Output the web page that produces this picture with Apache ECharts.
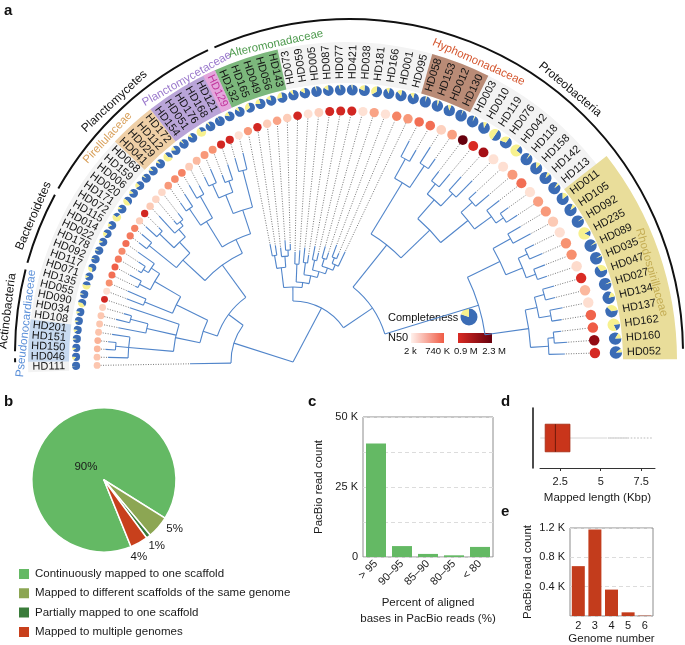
<!DOCTYPE html>
<html><head><meta charset="utf-8">
<script src="https://cdn.jsdelivr.net/npm/echarts@6/dist/echarts.min.js"></script>
<style>html,body{margin:0;padding:0;background:#fff}#chart{width:685px;height:645px}</style>
</head><body><div id="chart"></div>
<script>
// ================= DATA =================
// ---- panel a : leaves in tree order (from HD111 clockwise to HD052)
const leafNames = ['HD111','HD046','HD150','HD151','HD201','HD108','HD034','HD090','HD055','HD135',
 'HD071','HD117','HD092','HD178','HD022','HD014','HD115','HD072','HD171','HD020',
 'HD006','HD159','HD068','HD041','HD029','HD112','HD172','HD154','HD051','HD176',
 'HD168','HD121','HD129','HD132','HD165','HD049','HD056','HD143','HD073','HD059',
 'HD005','HD087','HD077','HD421','HD038','HD181','HD166','HD001','HD095','HD058',
 'HD153','HD012','HD130','HD003','HD010','HD119','HD076','HD042','HD118','HD158',
 'HD142','HD113','HD011','HD105','HD092','HD235','HD089','HD035','HD047','HD027',
 'HD134','HD137','HD162','HD160','HD052'];
// N50 (K bp)
const n50K = [230,240,300,330,250,230,220,150,1000,60,
 500,650,720,600,520,650,600,560,180,1000,
 200,120,100,450,520,560,180,300,450,480,
 1000,1000,40,450,1000,180,400,180,1000,40,
 150,1000,1000,1000,40,400,30,550,450,650,
 650,150,420,2300,900,1600,40,50,450,650,
 40,420,450,200,50,480,500,80,850,300,
 60,700,750,1800,950];
// completeness (%)
const completeness = [99,85,90,95,88,92,90,60,95,45,
 90,70,96,95,90,80,85,30,90,55,
 88,80,95,90,92,40,85,95,90,30,
 95,98,85,90,70,80,85,75,90,85,
 97,85,95,97,80,65,90,85,88,97,
 95,90,98,97,90,50,70,25,97,88,
 92,95,85,90,98,15,97,97,70,97,
 85,65,20,85,90];
// families (leaf index ranges)
const familyNames  = ['Pseudonocardiaceae','Pirellulaceae','Planctomycetaceae','Alteromonadaceae','Hyphomonadaceae','Rhodospirillaceae'];
const familyRanges = [[1,4],[23,26],[27,32],[33,37],[49,52],[62,74]];
const highlightLeaf = [32];            // HD129
// phyla (leaf index ranges)
const phylumNames  = ['','Actinobacteria','Bacteroidetes','Planctomycetes','Proteobacteria'];
const phylumRanges = [[0,0],[1,8],[9,15],[16,32],[33,74]];
// tree topology, number after ':' = distance of the node from the root
const treeNewick =
 '((HD111:103,((((HD046:185,(HD150:188,HD151:186):178,HD201:183):165,(HD108:178,(HD034:182,HD090:176):168):150,HD055:172):120,' +
 '((HD135:178,HD071:180):160,((HD117:175,HD092:185):172,((HD178:180,HD022:184):176,HD014:190):170):160):130):95,' +
 '(((HD115:195,HD072:198):185,((HD171:200,HD020:190):185,(HD006:198,(HD159:185,HD068:188):180):175):165):150,' +
 '(((HD041:195,HD029:200):185,(HD112:205,HD172:200):190):165,(((HD154:205,HD051:210):195,(HD176:200,HD168:208):192):180,(HD121:212,HD129:215):198):160):135):120):80):62,' +
 '((((HD132:120,HD165:118):108,(HD049:115,(HD056:122,HD143:118):112):106):95,' +
 '((HD073:110,HD059:112):98,((HD005:115,HD087:108):100,((HD077:118,HD421:112):104,((HD038:120,HD181:115):108,((HD166:125,HD001:118):112,HD095:122):106):100):94):88):80):75,' +
 '((((HD058:250,HD153:245):232,(HD012:255,HD130:248):236):210,' +
 '(((HD003:240,HD010:245):228,(HD119:250,HD076:255):232):215,((HD042:250,HD118:258):240,(HD158:262,(HD142:265,HD113:268):255):246):225):190):150,' +
 '(((HD011:265,HD105:270):250,((HD092:268,HD235:272):258,(HD089:270,HD035:268):258):248):230,' +
 '(((HD047:272,HD027:270):260,(HD134:275,HD137:272):262):250,((HD162:270,HD160:275):262,HD052:272):256):238):194):96):61):0';
// N50 legend ticks
const n50LegendTicks = ['2 k','740 K','0.9 M','2.3 M'];

// ---- panel b
const pieNames  = ['Continuously mapped to one scaffold','Mapped to different scaffolds of the same genome','Partially mapped to one scaffold','Mapped to multiple genomes'];
const pieValues = [90,5,1,4];
// ---- panel c
const cCategories = ['> 95','90\u201395','85\u201390','80\u201395','< 80'];
const cValues = [40500,3900,1100,600,3600];
// ---- panel d  (Kbp)
const dBox = [1.27,1.57,2.2,3.1,5.4];            // min, Q1, median, Q3, max
const dOutliers = [5.5,5.6,5.7,5.8,5.9,6.0,6.1,6.2,6.3,6.4,6.5,6.6,6.7,6.9,7.1,7.3,7.5,7.7,7.9,8.1];
// ---- panel e
const eCategories = ['2','3','4','5','6'];
const eValues = [680,1180,360,50,5];

// ================= LAYOUT / STYLE =================
const FONT = '"Liberation Sans", Arial, Helvetica, sans-serif';
const CA = [293,362];      // tree polar centre (px)
const CB = [346,360];      // ring polar centre (px)
const CC = [349,353];      // phylum arc polar centre (px)
const RA_MAX = 330, RB_MAX = 360, RC_MAX = 360;
const R_N50 = 249, R_PIE = 270, R_LAB = 281, R_BAND0 = 277, R_BAND1 = 318;
const R_ARC = 334, R_PHY = 344;
const TH0 = 181.0, TH1 = 1.7;       // angular span of the tree leaves
const familyStyle = {
  Pseudonocardiaceae:{fill:'#c8daf0', text:'#5a8fd8', phi:173.5, r:322, r1:R_BAND1},
  Pirellulaceae:{fill:'#efcfa6', text:'#d9a15c', phi:137, r:326, r1:R_BAND1},
  Planctomycetaceae:{fill:'#b9a4d8', text:'#9a78cc', phi:119.5, r:323, r1:R_BAND1},
  Alteromonadaceae:{fill:'#7cb87c', text:'#4d9a4d', phi:102.5, r:324, r1:R_BAND1},
  Hyphomonadaceae:{fill:'#b98b76', text:'#d4552d', phi:66, r:326, r1:R_BAND1},
  Rhodospirillaceae:{fill:'#e9dd9a', text:'#c4ad55', phi:16, r:318, r1:331}
};
const phylumLabelPhi = [null,173,156.5,133,50];
const TREE_COLOR = '#5185ca', BLUE = '#3b6cb5', YELLOW = '#f7f18e';

// ================= GEOMETRY =================
const N = leafNames.length;
const thetaTree = leafNames.map((_, i) => TH0 - i * (TH0 - TH1) / (N - 1));
function rayHit(thDeg, R) {
  const th = thDeg * Math.PI / 180, ux = Math.cos(th), uy = -Math.sin(th);
  const dx = CA[0] - CB[0], dy = CA[1] - CB[1];
  const b = dx * ux + dy * uy, c = dx * dx + dy * dy - R * R;
  const t = -b + Math.sqrt(b * b - c);
  const px = CA[0] + t * ux, py = CA[1] + t * uy;
  let phi = Math.atan2(-(py - CB[1]), px - CB[0]) * 180 / Math.PI;
  if (phi < -60) phi += 360;
  return {t, phi};
}
const hits = thetaTree.map(th => rayHit(th, R_N50));
const ringPhi = hits.map(h => h.phi);
const ringDistA = hits.map(h => h.t);
const dPhi = ringPhi.map((p, i) => i === 0 ? ringPhi[0] - ringPhi[1] : i === N - 1 ? ringPhi[N - 2] - ringPhi[N - 1] : (ringPhi[i - 1] - ringPhi[i + 1]) / 2);
const D2R = Math.PI / 180;

// tree parsing
function parseNewick(s) {
  let pos = 0, leafCounter = 0;
  function node() {
    const n = {children: []};
    if (s[pos] === '(') {
      pos++;
      n.children.push(node());
      while (s[pos] === ',') { pos++; n.children.push(node()); }
      pos++;
    }
    let name = '';
    while (pos < s.length && ',():;'.indexOf(s[pos]) < 0) name += s[pos++];
    n.name = name;
    if (s[pos] === ':') { pos++; let num = ''; while (pos < s.length && ',();'.indexOf(s[pos]) < 0) num += s[pos++]; n.depth = parseFloat(num); }
    if (!n.children.length) n.leaf = leafCounter++;
    return n;
  }
  return node();
}
const treeRoot = parseNewick(treeNewick);
const treeNodes = [];
(function layout(n, parent) {
  n.parent = parent;
  n.children.forEach(c => layout(c, n));
  n.theta = n.children.length ? (n.children[0].theta + n.children[n.children.length - 1].theta) / 2 : thetaTree[n.leaf];
  treeNodes.push(n);
})(treeRoot, null);

function n50Color(v) {
  if (v <= 800) return echarts.color.lerp(Math.max(0, Math.min(1, (v - 2) / 738)), ['#fee6dc', '#fcc3ab', '#f7906f', '#ef5b45']);
  return echarts.color.lerp(Math.max(0, Math.min(1, (v - 900) / 1400)), ['#d92b24', '#a50f15', '#67000d']);
}

// ================= SERIES for panel a =================
function pxR(params, v, max) { return v * params.coordSys.r / max; }

const bandSpecs = [{from: 0, to: N - 1, r0: R_BAND0, r1: R_BAND1, fill: '#f3f3f3'}];
familyNames.forEach((f, k) => bandSpecs.push({from: familyRanges[k][0], to: familyRanges[k][1], r0: R_BAND0, r1: familyStyle[f].r1, fill: familyStyle[f].fill}));
highlightLeaf.forEach(i => bandSpecs.push({from: i, to: i, r0: R_BAND0, r1: R_BAND1, fill: '#e4a6dc'}));

function spanPhi(from, to, shrink) {
  return [ringPhi[from] + dPhi[from] / 2 - (shrink || 0), ringPhi[to] - dPhi[to] / 2 + (shrink || 0)];
}

const series = [];
// backgrounds of labels
series.push({
  type: 'custom', coordinateSystem: 'polar', polarIndex: 0, silent: true, z: 1,
  data: bandSpecs.map((b, k) => [b.r1, ringPhi[b.from], k]),
  renderItem(params, api) {
    const b = bandSpecs[api.value(2)], sp = spanPhi(b.from, b.to, 0);
    return {type: 'sector', shape: {cx: params.coordSys.cx, cy: params.coordSys.cy,
      r0: pxR(params, b.r0, RB_MAX), r: pxR(params, b.r1, RB_MAX), startAngle: -sp[0] * D2R, endAngle: -sp[1] * D2R, clockwise: true},
      style: {fill: b.fill}};
  }
});
// family labels
series.push({
  type: 'custom', coordinateSystem: 'polar', polarIndex: 0, silent: true, z: 3,
  data: familyNames.map((f, k) => [familyStyle[f].r, familyStyle[f].phi, k]),
  renderItem(params, api) {
    const f = familyNames[api.value(2)], phi = api.value(1), p = api.coord([api.value(0), phi]);
    return {type: 'text', x: p[0], y: p[1], rotation: (phi - 90) * D2R,
      style: {text: f, fill: familyStyle[f].text, font: '11.5px ' + FONT, align: 'center', verticalAlign: 'middle'}};
  }
});
// phylum arcs + labels
series.push({
  type: 'custom', coordinateSystem: 'polar', polarIndex: 2, silent: true, z: 3,
  data: phylumNames.map((p, k) => [R_ARC, ringPhi[phylumRanges[k][0]], k]),
  renderItem(params, api) {
    const k = api.value(2), rg = phylumRanges[k], sp = spanPhi(rg[0], rg[1], 0.6);
    const ch = [{type: 'arc', shape: {cx: params.coordSys.cx, cy: params.coordSys.cy, r: pxR(params, R_ARC, RC_MAX),
      startAngle: -sp[0] * D2R, endAngle: -sp[1] * D2R, clockwise: true}, style: {stroke: '#111', lineWidth: 2, fill: null}}];
    if (phylumNames[k]) {
      const phi = phylumLabelPhi[k], p = api.coord([R_PHY, phi]);
      ch.push({type: 'text', x: p[0], y: p[1], rotation: (phi - 90) * D2R,
        style: {text: phylumNames[k], fill: '#111', font: '12px ' + FONT, align: 'center', verticalAlign: 'middle'}});
    }
    return {type: 'group', children: ch};
  }
});
// tree branches
series.push({
  type: 'custom', coordinateSystem: 'polar', polarIndex: 1, silent: true, z: 2,
  data: treeNodes.map((n, k) => [n.depth, n.theta, k]),
  renderItem(params, api) {
    const n = treeNodes[api.value(2)], ch = [];
    const st = {stroke: TREE_COLOR, lineWidth: 1.1, fill: null};
    if (n.parent) {
      const a = api.coord([n.parent.depth, n.theta]), b = api.coord([n.depth, n.theta]);
      ch.push({type: 'line', shape: {x1: a[0], y1: a[1], x2: b[0], y2: b[1]}, style: st});
    }
    if (n.children.length && n.depth > 0) {
      const t0 = n.children[0].theta, t1 = n.children[n.children.length - 1].theta;
      ch.push({type: 'arc', shape: {cx: params.coordSys.cx, cy: params.coordSys.cy, r: pxR(params, n.depth, RA_MAX),
        startAngle: -t0 * D2R, endAngle: -t1 * D2R, clockwise: true}, style: st});
    }
    return {type: 'group', children: ch};
  }
});
// dotted connectors tip -> N50 circle
series.push({
  type: 'custom', coordinateSystem: 'polar', polarIndex: 1, silent: true, z: 2,
  data: treeNodes.filter(n => !n.children.length).map(n => [n.depth, n.theta, n.leaf]),
  renderItem(params, api) {
    const i = api.value(2);
    const a = api.coord([api.value(0) + 1, api.value(1)]);
    const b = api.coord([ringDistA[i] - 0.41 * R_N50 * dPhi[i] * D2R, api.value(1)]);
    return {type: 'line', shape: {x1: a[0], y1: a[1], x2: b[0], y2: b[1]},
      style: {stroke: '#555', lineWidth: 0.8, lineDash: [1, 1.5]}};
  }
});
// N50 circles
series.push({
  type: 'scatter', coordinateSystem: 'polar', polarIndex: 0, silent: true, z: 4,
  data: leafNames.map((n, i) => [R_N50, ringPhi[i], n50K[i], i]),
  symbol: 'circle',
  symbolSize: v => 0.82 * R_N50 * dPhi[v[3]] * D2R,
  itemStyle: {color: p => n50Color(p.value[2]), opacity: 1},
  emphasis: {disabled: true}
});
// completeness pies
series.push({
  type: 'custom', coordinateSystem: 'polar', polarIndex: 0, silent: true, z: 4,
  data: leafNames.map((n, i) => [R_PIE, ringPhi[i], completeness[i], i]),
  renderItem(params, api) {
    const i = api.value(3), p = api.coord([api.value(0), api.value(1)]);
    const r = 0.45 * R_PIE * dPhi[i] * D2R, s = -api.value(1) * D2R, e = s + 2 * Math.PI * api.value(2) / 100;
    return {type: 'group', children: [
      {type: 'sector', shape: {cx: p[0], cy: p[1], r: r, r0: 0, startAngle: s, endAngle: e, clockwise: true}, style: {fill: BLUE}},
      {type: 'sector', shape: {cx: p[0], cy: p[1], r: r, r0: 0, startAngle: e, endAngle: s + 2 * Math.PI, clockwise: true}, style: {fill: YELLOW}}
    ]};
  }
});
// leaf labels
series.push({
  type: 'custom', coordinateSystem: 'polar', polarIndex: 0, silent: true, z: 5,
  data: leafNames.map((n, i) => [R_LAB, ringPhi[i], i]),
  renderItem(params, api) {
    const i = api.value(2), phi = api.value(1), p = api.coord([api.value(0), phi]);
    const flip = thetaTree[i] > 90;
    return {type: 'text', x: p[0], y: p[1], rotation: (flip ? phi - 180 : phi) * D2R,
      style: {text: leafNames[i], fill: highlightLeaf.indexOf(i) >= 0 ? '#c2369c' : '#141414', font: '11px ' + FONT,
        align: flip ? 'right' : 'left', verticalAlign: 'middle'}};
  }
});

// ================= panels b-e series =================
const pieColors = ['#64b964', '#8ca653', '#3a7c3a', '#c8401c'];
const pieLabelShift = [[7, 17], [0, 0], [-8, 3], [-10, 0]];
series.push({
  type: 'pie', center: [104, 480], radius: 72, startAngle: 292, clockwise: true,
  data: pieNames.map((n, i) => ({name: n, value: pieValues[i], itemStyle: {color: pieColors[i]},
    label: i === 0 ? {position: 'inside'} : {position: 'outside'}})),
  itemStyle: {borderColor: '#fff', borderWidth: 1.5},
  label: {show: true, formatter: '{c}%', fontSize: 11.5, color: '#1a1a1a', fontFamily: FONT, distanceToLabelLine: 0},
  labelLine: {show: false, length: 3, length2: 0},
  labelLayout: p => ({dx: pieLabelShift[p.dataIndex][0], dy: pieLabelShift[p.dataIndex][1]}),
  emphasis: {disabled: true}, silent: true
});
series.push({
  type: 'bar', xAxisIndex: 0, yAxisIndex: 0, data: cValues, barWidth: 20,
  itemStyle: {color: '#64b964'}, silent: true
});
series.push({
  type: 'custom', xAxisIndex: 1, yAxisIndex: 1, silent: true, z: 3,
  data: [[dBox[0], 0, dBox[1], dBox[2], dBox[3], dBox[4]]],
  renderItem(params, api) {
    const h = api.size([0, 1])[1] * 0.46;
    const mn = api.coord([api.value(0), 0]), q1 = api.coord([api.value(2), 0]), md = api.coord([api.value(3), 0]),
      q3 = api.coord([api.value(4), 0]), mx = api.coord([api.value(5), 0]);
    return {type: 'group', children: [
      {type: 'line', shape: {x1: mn[0], y1: mn[1], x2: q1[0], y2: q1[1]}, style: {stroke: '#d6d6d6', lineWidth: 1}},
      {type: 'line', shape: {x1: q3[0], y1: q3[1], x2: mx[0], y2: mx[1]}, style: {stroke: '#d6d6d6', lineWidth: 1}},
      {type: 'rect', shape: {x: q1[0], y: q1[1] - h / 2, width: q3[0] - q1[0], height: h}, style: {fill: '#c9351b', stroke: '#a32a12', lineWidth: 0.8}},
      {type: 'line', shape: {x1: md[0], y1: md[1] - h / 2, x2: md[0], y2: md[1] + h / 2}, style: {stroke: '#6e1a0b', lineWidth: 1}}
    ]};
  }
});
series.push({
  type: 'scatter', xAxisIndex: 1, yAxisIndex: 1, silent: true, z: 2,
  data: dOutliers.map(v => [v, 0]), symbolSize: 2, itemStyle: {color: '#cfcfcf'}
});
series.push({
  type: 'bar', xAxisIndex: 2, yAxisIndex: 2, data: eValues, barWidth: 13,
  itemStyle: {color: '#c33c1c'}, silent: true
});

// ================= OPTION =================
const axisText = {fontSize: 11, color: '#1a1a1a', fontFamily: FONT};
const nameText = {fontSize: 11.5, color: '#1a1a1a', fontFamily: FONT};
const legText = (x, y, t, sz, al) => ({type: 'text', x: x, y: y, style: {text: t, font: sz + 'px ' + FONT, fill: '#111', align: al || 'left', verticalAlign: 'middle'}});
const option = {
  animation: false,
  textStyle: {fontFamily: FONT},
  polar: [{center: CB, radius: RB_MAX}, {center: CA, radius: RA_MAX}, {center: CC, radius: RC_MAX}],
  angleAxis: [
    {polarIndex: 0, type: 'value', min: 0, max: 360, startAngle: 0, clockwise: false, show: false},
    {polarIndex: 1, type: 'value', min: 0, max: 360, startAngle: 0, clockwise: false, show: false},
    {polarIndex: 2, type: 'value', min: 0, max: 360, startAngle: 0, clockwise: false, show: false}],
  radiusAxis: [
    {polarIndex: 0, type: 'value', min: 0, max: RB_MAX, show: false},
    {polarIndex: 1, type: 'value', min: 0, max: RA_MAX, show: false},
    {polarIndex: 2, type: 'value', min: 0, max: RC_MAX, show: false}],
  grid: [
    {left: 363, top: 417, width: 130, height: 140, show: true, borderColor: '#8c8c8c', borderWidth: 1, outerBoundsMode: 'none', containLabel: false},
    {left: 540, top: 408, width: 115, height: 60, show: false, outerBoundsMode: 'none', containLabel: false},
    {left: 570, top: 528, width: 83, height: 88, show: true, borderColor: '#8c8c8c', borderWidth: 1, outerBoundsMode: 'none', containLabel: false}],
  xAxis: [
    {gridIndex: 0, type: 'category', data: cCategories, axisLine: {show: false}, axisTick: {show: false},
      axisLabel: {rotate: 45, interval: 0, margin: 5, fontSize: 11, color: '#1a1a1a', fontFamily: FONT},
      name: 'Percent of aligned\nbases in PacBio reads (%)', nameLocation: 'middle', nameGap: 38,
      nameTextStyle: Object.assign({lineHeight: 16}, nameText)},
    {gridIndex: 1, type: 'value', min: 1.25, max: 8.35, minInterval: 2.5, maxInterval: 2.5, splitLine: {show: false},
      axisLine: {show: true, lineStyle: {color: '#333', width: 1}}, axisTick: {show: true, length: 3, lineStyle: {color: '#333'}},
      axisLabel: Object.assign({margin: 8, showMinLabel: false, showMaxLabel: false, formatter: v => (Math.abs(v / 2.5 - Math.round(v / 2.5)) < 1e-6 ? String(v) : '')}, axisText),
      name: 'Mapped length (Kbp)', nameLocation: 'middle', nameGap: 24, nameTextStyle: nameText},
    {gridIndex: 2, type: 'category', data: eCategories, axisLine: {show: false}, axisTick: {show: false},
      axisLabel: Object.assign({margin: 4}, axisText),
      name: 'Genome number', nameLocation: 'middle', nameGap: 17, nameTextStyle: nameText}],
  yAxis: [
    {gridIndex: 0, type: 'value', min: 0, max: 50000, interval: 12500,
      splitLine: {show: true, lineStyle: {color: '#dcdcdc', type: [4, 3]}}, axisLine: {show: false}, axisTick: {show: false},
      axisLabel: Object.assign({margin: 5, formatter: v => v === 0 ? '0' : (v % 25000 === 0 ? (v / 1000) + ' K' : '')}, axisText),
      name: 'PacBio read count', nameLocation: 'middle', nameGap: 38, nameTextStyle: nameText},
    {gridIndex: 1, type: 'category', data: ['reads'], offset: 7, axisLine: {show: true, lineStyle: {color: '#111', width: 1.5}},
      axisTick: {show: false}, axisLabel: {show: false}, splitLine: {show: false}},
    {gridIndex: 2, type: 'value', min: 0, max: 1200, interval: 400,
      splitLine: {show: true, lineStyle: {color: '#dcdcdc', type: [4, 3]}}, axisLine: {show: false}, axisTick: {show: false},
      axisLabel: Object.assign({margin: 5, formatter: v => v === 0 ? '' : (v / 1000) + ' K'}, axisText),
      name: 'PacBio read count', nameLocation: 'middle', nameGap: 36, nameTextStyle: nameText}],
  legend: {data: pieNames, orient: 'vertical', left: 17, top: 567, padding: 0, itemWidth: 12, itemHeight: 12, itemGap: 5.3,
    icon: 'rect', selectedMode: false, textStyle: {fontSize: 11.5, lineHeight: 12, color: '#1a1a1a', fontFamily: FONT}},
  graphic: [
    {type: 'text', left: 4, top: 3, style: {text: 'a', font: 'bold 15px ' + FONT, fill: '#111'}},
    {type: 'text', left: 4, top: 394, style: {text: 'b', font: 'bold 15px ' + FONT, fill: '#111'}},
    {type: 'text', left: 308, top: 394, style: {text: 'c', font: 'bold 15px ' + FONT, fill: '#111'}},
    {type: 'text', left: 501, top: 394, style: {text: 'd', font: 'bold 15px ' + FONT, fill: '#111'}},
    {type: 'text', left: 501, top: 504, style: {text: 'e', font: 'bold 15px ' + FONT, fill: '#111'}},
    // completeness / N50 legend
    legText(388, 318, 'Completeness', 11),
    {type: 'sector', shape: {cx: 469, cy: 317, r: 8.5, r0: 0, startAngle: -Math.PI / 2, endAngle: -Math.PI / 2 + 2 * Math.PI * 0.8, clockwise: true}, style: {fill: BLUE}},
    {type: 'sector', shape: {cx: 469, cy: 317, r: 8.5, r0: 0, startAngle: -Math.PI / 2 + 2 * Math.PI * 0.8, endAngle: 1.5 * Math.PI, clockwise: true}, style: {fill: YELLOW}},
    legText(388, 338, 'N50', 11),
    {type: 'rect', shape: {x: 411, y: 333, width: 33, height: 10}, style: {fill: new echarts.graphic.LinearGradient(0, 0, 1, 0, [{offset: 0, color: '#fff1ec'}, {offset: 1, color: '#ef5b45'}])}},
    {type: 'rect', shape: {x: 458, y: 333, width: 34, height: 10}, style: {fill: new echarts.graphic.LinearGradient(0, 0, 1, 0, [{offset: 0, color: '#d92b24'}, {offset: 1, color: '#67000d'}])}},
    legText(404, 351, n50LegendTicks[0], 9.5, 'left'),
    legText(450, 351, n50LegendTicks[1], 9.5, 'right'),
    legText(454, 351, n50LegendTicks[2], 9.5, 'left'),
    legText(506, 351, n50LegendTicks[3], 9.5, 'right')
  ],
  series: series
};
const chart = echarts.init(document.getElementById('chart'));
chart.setOption(option);
</script></body></html>
